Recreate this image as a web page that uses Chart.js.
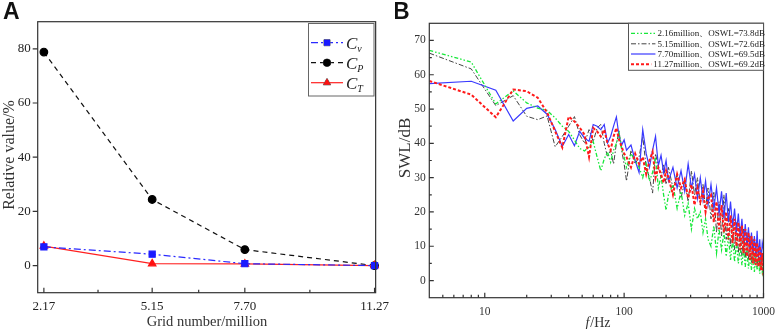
<!DOCTYPE html>
<html>
<head>
<meta charset="utf-8">
<script src="https://cdn.jsdelivr.net/npm/chart.js@4.4.1/dist/chart.umd.min.js"></script>
<style>
body { margin: 0; background: #fff; width: 782px; height: 329px; overflow: hidden; position: relative; }
canvas { position: absolute; top: 0; }
#chart_a { left: 0; }
#chart_b { left: 395px; }
</style>
</head>
<body>
<canvas id="chart_a" width="395" height="329"></canvas>
<canvas id="chart_b" width="387" height="329"></canvas>
<script>
// ---- panel A: relative value vs grid number
let grid_sizes = [2.17, 5.15, 7.70, 11.27];
let cv = [6.9, 4.2, 0.7, 0.0];
let cp = [78.8, 24.4, 5.9, 0.0];
let ct = [7.2, 0.7, 0.6, 0.0];
let a_yticks = [0, 20, 40, 60, 80];
let a_xminor = [3.66, 6.43, 9.49];

// ---- panel B: SWL spectra
let freq = [4, 8, 12, 16, 20, 24, 28, 32, 36, 40, 44, 48, 52, 56, 60, 64, 68, 72, 76, 80, 84, 88, 92, 96, 100,
    104, 112, 120, 128, 136, 144, 152, 160, 168, 176, 184, 192, 200,
    208, 224, 240, 256, 272, 288, 304, 320, 336, 352, 368, 384, 400,
    420, 440, 460, 480, 500, 520, 540, 560, 580, 600, 620, 640, 660, 680, 700, 720, 740, 760, 780, 800,
    820, 840, 860, 880, 900, 920, 940, 960, 980, 1000];
let swl_216 = [67.1, 63.7, 51.5, 55.3, 51.8, 50.3, 49.6, 47.4, 45.0, 43.5, 41.0, 38.5, 37.8, 39.0, 40.5, 36.0, 32.0, 35.5, 37.5, 34.5, 38.0, 40.0, 43.0, 38.5, 36.0,
    33.0, 37.0, 35.0, 33.0, 30.0, 34.0, 29.0, 31.5, 36.0, 27.0, 30.5, 25.0, 20.5,
    25.0, 28.0, 21.0, 26.0, 19.0, 22.5, 15.0, 21.0, 18.0, 20.0, 14.0, 18.0, 12.0,
    10, 16, 8, 15, 9, 14, 7, 13, 6, 12, 5.5, 11, 5, 10, 4.5, 9.5, 4, 9, 3.5, 8,
    3, 8, 2.5, 7, 3, 6.5, 2, 6, 2.5, 5];
let swl_515 = [66.3, 61.7, 51.0, 53.9, 47.9, 46.9, 48.0, 39.0, 42.0, 45.0, 47.8, 42.5, 40.0, 44.0, 40.5, 44.5, 45.5, 40.0, 36.0, 38.0, 34.0, 40.0, 43.5, 38.0, 34.0,
    29.0, 38.0, 34.0, 36.0, 42.0, 33.0, 30.0, 25.5, 37.0, 33.0, 30.0, 34.0, 28.0,
    33.0, 27.0, 31.0, 24.0, 29.0, 23.0, 32.0, 25.0, 30.0, 22.0, 28.0, 21.0, 27.0,
    18, 26, 14, 23, 13, 25, 12, 21, 10, 18, 9, 17, 8, 16, 7, 15, 6.5, 14, 6, 13,
    5, 12, 5, 11, 4, 10, 4, 9, 3, 7];
let swl_770 = [57.4, 58.1, 55.5, 46.5, 50.2, 50.9, 48.5, 44.0, 39.1, 42.6, 39.3, 43.5, 41.5, 40.6, 45.5, 45.0, 44.0, 45.5, 40.1, 42.0, 45.0, 47.7, 42.0, 39.5, 41.0,
    38.0, 39.5, 35.0, 31.5, 44.0, 37.0, 33.0, 38.0, 42.0, 33.5, 36.5, 31.5, 35.0,
    29, 33, 27, 32, 26, 34, 27, 31, 24, 30, 23.5, 29, 22,
    28, 21, 27, 19.5, 26, 18, 25.5, 17, 23, 15.5, 21, 14, 19.5, 12.5, 18, 11, 16.5, 10, 15.5, 9,
    14, 8, 13, 7, 14.5, 6.5, 12, 5, 11, 9];
let swl_1127 = [58.2, 54.2, 47.6, 55.7, 55.2, 53.3, 49.0, 43.5, 38.8, 47.8, 46.4, 44.6, 42.5, 36.0, 44.5, 43.5, 42.0, 44.0, 40.0, 38.0, 42.0, 44.5, 41.0, 39.0, 37.0,
    36, 33, 37, 34, 36, 31, 35, 37.5, 30, 33, 31, 28.5, 32,
    30, 25, 31, 27, 29.5, 24, 28, 22, 27, 23, 26, 20, 24,
    25, 17, 23, 15, 22, 14, 20, 12, 19, 11, 18, 10, 17, 9, 16, 8, 15, 7, 14, 6,
    13, 5, 12, 4.5, 11, 4, 10, 3, 8, 1.5];
let b_names = ["2.16million、OSWL=73.8dB", "5.15million、OSWL=72.6dB", "7.70million、OSWL=69.5dB", "11.27million、OSWL=69.2dB"];
let b_xticks = [10, 100, 1000];
let b_xminor = [5, 6, 7, 8, 9, 20, 30, 40, 50, 60, 70, 80, 90, 200, 300, 400, 500, 600, 700, 800, 900];
let b_yticks = [0, 10, 20, 30, 40, 50, 60, 70];
let b_yminor = [5, 15, 25, 35, 45, 55, 65];

Chart.defaults.font.family = "'Liberation Serif', 'Times New Roman', serif";
Chart.defaults.color = "#222";
Chart.defaults.animation = false;

const SERIF = "'Liberation Serif', 'Times New Roman', serif";

function pairs(xs, ys) {
    return xs.map((x, i) => ({ x: x, y: ys[i] }));
}

function set_ticks(values) {
    return function (scale) { scale.ticks = values.map(v => ({ value: v })); };
}

function line_sample(ctx, ds, x0, x1, y) {
    ctx.save();
    ctx.strokeStyle = ds.borderColor;
    ctx.lineWidth = ds.borderWidth;
    ctx.setLineDash(ds.borderDash || []);
    ctx.beginPath();
    ctx.moveTo(x0, y);
    ctx.lineTo(x1, y);
    ctx.stroke();
    ctx.restore();
}

function tick_marks(ctx, scale, values, len, horizontal, base) {
    values.forEach(v => {
        let p = scale.getPixelForValue(v);
        if (horizontal) { ctx.moveTo(p, base); ctx.lineTo(p, base - len); }
        else { ctx.moveTo(base, p); ctx.lineTo(base + len, p); }
    });
}

let frame_a = {
    id: "frame_a",
    afterDraw(chart) {
        let ctx = chart.ctx, a = chart.chartArea;
        ctx.save();
        ctx.strokeStyle = "#333";
        ctx.lineWidth = 1.2;
        ctx.strokeRect(a.left, a.top, a.right - a.left, a.bottom - a.top);
        ctx.beginPath();
        tick_marks(ctx, chart.scales.x, grid_sizes, 5, true, a.bottom);
        tick_marks(ctx, chart.scales.x, a_xminor, 3, true, a.bottom);
        tick_marks(ctx, chart.scales.y, a_yticks, -5, false, a.left);
        ctx.stroke();

        ctx.fillStyle = "#111";
        ctx.font = "bold 23px 'Liberation Sans', Arial, sans-serif";
        ctx.textAlign = "left";
        ctx.fillText("A", 3, 19);

        ctx.fillStyle = "#333";
        ctx.font = "16px " + SERIF;
        ctx.save();
        ctx.translate(13.5, 155);
        ctx.rotate(-Math.PI / 2);
        ctx.textAlign = "center";
        ctx.fillText("Relative value/%", 0, 0);
        ctx.restore();
        ctx.font = "14.5px " + SERIF;
        ctx.textAlign = "center";
        ctx.fillText("Grid number/million", 207, 326);

        // legend
        ctx.fillStyle = "#fff";
        ctx.strokeStyle = "#666";
        ctx.lineWidth = 1;
        ctx.fillRect(308.5, 23.5, 65.5, 72.5);
        ctx.strokeRect(308.5, 23.5, 65.5, 72.5);
        let subs = ["v", "P", "T"];
        chart.data.datasets.forEach((ds, i) => {
            let y = 42.7 + i * 20;
            line_sample(ctx, ds, 311, 343, y);
            let meta = chart.getDatasetMeta(i);
            Chart.helpers.drawPoint(ctx, {
                pointStyle: ds.pointStyle, radius: ds.pointRadius, borderWidth: 1, rotation: 0
            }, 327, y);
            ctx.fillStyle = ds.pointBackgroundColor;
            ctx.fill();
            ctx.fillStyle = "#222";
            ctx.textAlign = "left";
            ctx.font = "italic 17px " + SERIF;
            ctx.fillText("C", 346, y + 6);
            let w = ctx.measureText("C").width;
            ctx.font = "italic 10px " + SERIF;
            ctx.fillText(subs[i], 346 + w, y + 9);
        });
        ctx.restore();
    }
};

let frame_b = {
    id: "frame_b",
    afterDraw(chart) {
        let ctx = chart.ctx, a = chart.chartArea;
        ctx.save();
        ctx.strokeStyle = "#333";
        ctx.lineWidth = 1.2;
        ctx.strokeRect(a.left, a.top, a.right - a.left, a.bottom - a.top);
        ctx.beginPath();
        tick_marks(ctx, chart.scales.x, b_xticks, 5, true, a.bottom);
        tick_marks(ctx, chart.scales.x, b_xminor, 3, true, a.bottom);
        tick_marks(ctx, chart.scales.y, b_yticks, 4.5, false, a.left);
        tick_marks(ctx, chart.scales.y, b_yminor, 2.5, false, a.left);
        ctx.stroke();

        ctx.fillStyle = "#111";
        ctx.font = "bold 23px 'Liberation Sans', Arial, sans-serif";
        ctx.textAlign = "left";
        ctx.fillText("B", -2, 19);

        ctx.fillStyle = "#333";
        ctx.font = "17px " + SERIF;
        ctx.save();
        ctx.translate(15, 148);
        ctx.rotate(-Math.PI / 2);
        ctx.textAlign = "center";
        ctx.fillText("SWL/dB", 0, 0);
        ctx.restore();

        ctx.textAlign = "left";
        ctx.font = "italic 14px " + SERIF;
        let wf = ctx.measureText("f").width;
        ctx.font = "14px " + SERIF;
        let wr = ctx.measureText("/Hz").width;
        let x0 = 202.5 - (wf + wr) / 2;
        ctx.font = "italic 14px " + SERIF;
        ctx.fillText("f", x0, 327);
        ctx.font = "14px " + SERIF;
        ctx.fillText("/Hz", x0 + wf + 1, 327);

        // legend
        ctx.fillStyle = "#fff";
        ctx.strokeStyle = "#555";
        ctx.lineWidth = 1;
        ctx.fillRect(233.5, a.top, a.right - 233.5, 47);
        ctx.strokeRect(233.5, a.top, a.right - 233.5, 47);
        let rows = [33.3, 43.8, 54, 64.3];
        ctx.font = "9px " + SERIF;
        ctx.textAlign = "right";
        b_names.forEach((name, i) => {
            let ds = chart.data.datasets[i];
            let w = ctx.measureText(name).width;
            line_sample(ctx, ds, 236, 368 - w, rows[i]);
            ctx.fillStyle = "#222";
            ctx.fillText(name, 370, rows[i] + 3);
        });
        ctx.restore();
    }
};

new Chart(document.getElementById("chart_a"), {
    type: "line",
    data: {
        datasets: [
            { label: "Cv", data: pairs(grid_sizes, cv), borderColor: "#2a2aff", borderWidth: 1.2, borderDash: [7, 3, 2, 3],
              pointStyle: "rect", pointRadius: 4.3, pointBackgroundColor: "#1a1aff", pointBorderColor: "#1a1aff", clip: false, order: 0 },
            { label: "Cp", data: pairs(grid_sizes, cp), borderColor: "#111", borderWidth: 1.2, borderDash: [5, 4],
              pointStyle: "circle", pointRadius: 3.8, pointBackgroundColor: "#000", pointBorderColor: "#000", clip: false, order: 2 },
            { label: "CT", data: pairs(grid_sizes, ct), borderColor: "#ff2020", borderWidth: 1.2,
              pointStyle: "triangle", pointRadius: 4.3, pointBackgroundColor: "#ff1010", pointBorderColor: "#ff1010", clip: false, order: 1 }
        ]
    },
    options: {
        responsive: false,
        devicePixelRatio: 1,
        layout: { padding: { left: 0, right: 19, top: 21.7, bottom: 0 } },
        plugins: { legend: { display: false }, tooltip: { enabled: false } },
        scales: {
            x: {
                type: "linear", min: 2, max: 11.3,
                afterBuildTicks: set_ticks(grid_sizes),
                afterFit: s => { s.height = 36.3; },
                grid: { display: false, drawTicks: false }, border: { display: false },
                ticks: { padding: 6, font: { size: 13 }, callback: v => v.toFixed(2) }
            },
            y: {
                min: -10, max: 90,
                afterBuildTicks: set_ticks(a_yticks),
                afterFit: s => { s.width = 37.7; },
                grid: { display: false, drawTicks: false }, border: { display: false },
                ticks: { padding: 7, font: { size: 13 } }
            }
        }
    },
    plugins: [frame_a]
});

new Chart(document.getElementById("chart_b"), {
    type: "line",
    data: {
        datasets: [
            { data: pairs(freq, swl_216), borderColor: "#18e83a", borderWidth: 1.3, borderDash: [4, 2, 1.5, 2, 1.5, 2], order: 1 },
            { data: pairs(freq, swl_515), borderColor: "#444", borderWidth: 1, borderDash: [5, 2, 1.5, 2], order: 3 },
            { data: pairs(freq, swl_770), borderColor: "#3a3aff", borderWidth: 1.2, order: 2 },
            { data: pairs(freq, swl_1127), borderColor: "#ff1a1a", borderWidth: 2, borderDash: [3, 2], order: 0 }
        ]
    },
    options: {
        responsive: false,
        devicePixelRatio: 1,
        elements: { point: { radius: 0 }, line: { tension: 0 } },
        layout: { padding: { left: 0, right: 12.7, top: 23.3, bottom: 0 } },
        plugins: { legend: { display: false }, tooltip: { enabled: false } },
        scales: {
            x: {
                type: "logarithmic", min: 4, max: 1000,
                afterBuildTicks: set_ticks(b_xticks),
                afterFit: s => { s.height = 31.3; },
                grid: { display: false, drawTicks: false }, border: { display: false },
                ticks: { padding: 7, font: { size: 11.5 }, color: "#333", callback: v => String(v) }
            },
            y: {
                min: -5, max: 75,
                afterBuildTicks: set_ticks(b_yticks),
                afterFit: s => { s.width = 34.3; },
                grid: { display: false, drawTicks: false }, border: { display: false },
                ticks: { padding: 3.5, font: { size: 11.5 }, color: "#333" }
            }
        }
    },
    plugins: [frame_b]
});
</script>
</body>
</html>
